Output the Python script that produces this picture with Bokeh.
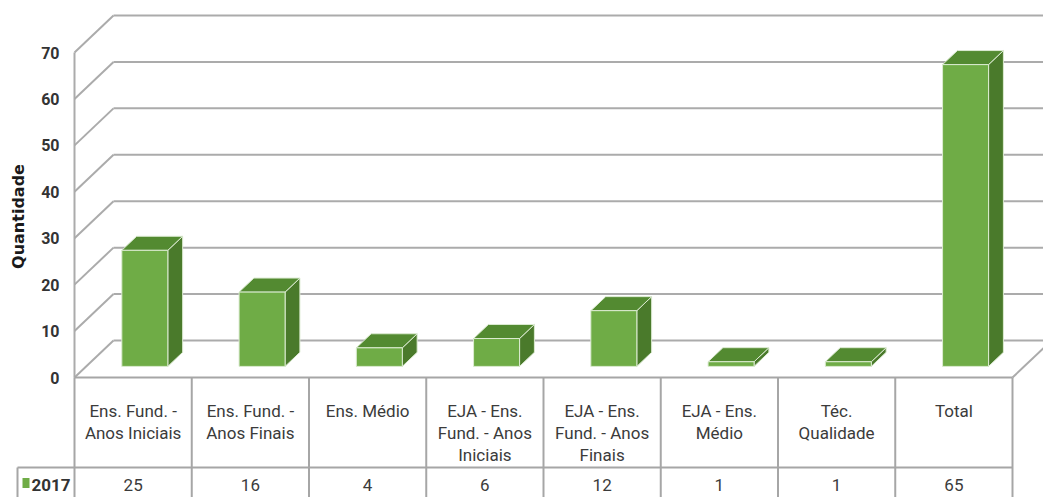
from bokeh.plotting import figure
from bokeh.models import Range1d
from bokeh.core.properties import value
from bokeh.embed import file_html
from bokeh.resources import INLINE

# ---- data ----
categories = ["Ens. Fund. -\nAnos Iniciais", "Ens. Fund. -\nAnos Finais", "Ens. Médio",
              "EJA - Ens.\nFund. - Anos\nIniciais", "EJA - Ens.\nFund. - Anos\nFinais",
              "EJA - Ens.\nMédio", "Téc.\nQualidade", "Total"]
values = [25, 16, 4, 6, 12, 1, 1, 65]
series_name = "2017"
y_ticks = [0, 10, 20, 30, 40, 50, 60, 70]
y_title = "Quantidade"

# ---- layout (pixel geometry) ----
W, H = 1043, 497
PX_X = 117.25            # pixels per category
X0 = 74                  # pixel of front-left corner
PX_Y = 325 / 70          # pixels per unit
Y0 = 377                 # pixel of front zero
DX = 39 / PX_X           # wall depth
DY = 37 / PX_Y
FONT = "Roboto"
TXT = "#3b3b3b"
GRID = "#ababab"
TBL = "#a6a6a6"

n = len(values)
xmin, xmax = -X0 / PX_X, (W - X0) / PX_X
ymin, ymax = -(H - Y0) / PX_Y, Y0 / PX_Y

def xp(px):
    return (px - X0) / PX_X

def yp(py):
    return (Y0 - py) / PX_Y

p = figure(width=W, height=H, x_range=Range1d(xmin, xmax), y_range=Range1d(ymin, ymax),
           output_backend="svg", toolbar_location=None, min_border=0)
p.axis.visible = False
p.grid.visible = False
p.outline_line_color = None
p.background_fill_color = "white"
p.border_fill_color = "white"

ymaxtick = max(y_ticks)
# back wall gridlines
p.segment(x0=[DX] * len(y_ticks), y0=[t + DY for t in y_ticks],
          x1=[xmax] * len(y_ticks), y1=[t + DY for t in y_ticks],
          line_color=GRID, line_width=2)
# side wall diagonals
p.segment(x0=[0] * len(y_ticks), y0=y_ticks, x1=[DX] * len(y_ticks),
          y1=[t + DY for t in y_ticks], line_color=GRID, line_width=2)
# front vertical axis line
p.segment(x0=[0], y0=[0], x1=[0], y1=[ymaxtick], line_color=GRID, line_width=2)
# floor right diagonal
p.segment(x0=[n], y0=[0], x1=[n + DX], y1=[DY], line_color=GRID, line_width=2)

# ---- 3D bars ----
f_front = 0.3
f_depth = 0.38
bw = 46 / PX_X
base = f_front * DY
sx = f_front * DX
bdx, bdy = f_depth * DX, f_depth * DY
centers = [i + 0.5 + sx for i in range(n)]
lefts = [c - bw / 2 for c in centers]
rights = [c + bw / 2 for c in centers]
tops = [base + v for v in values]

side_xs = [[r, r + bdx, r + bdx, r] for r in rights]
side_ys = [[base, base + bdy, t + bdy, t] for t in tops]
top_xs = [[l, r, r + bdx, l + bdx] for l, r in zip(lefts, rights)]
top_ys = [[t, t, t + bdy, t + bdy] for t in tops]

p.patches(xs=side_xs, ys=side_ys, fill_color="#4a7a2b", line_color="#dcebd2", line_width=1)
p.patches(xs=top_xs, ys=top_ys, fill_color="#538a31", line_color="#dcebd2", line_width=1)
p.vbar(x=centers, width=bw, bottom=base, top=tops, fill_color="#6fac46",
       line_color="#dcebd2", line_width=1)

# ---- y tick labels & title ----
p.text(x=[xp(59)] * len(y_ticks), y=y_ticks, text=[str(t) for t in y_ticks],
       text_align="right", text_baseline="middle", text_font=value(FONT),
       text_font_size="16px", text_color="#333333", text_font_style="bold")
p.text(x=[xp(18)], y=[yp(216)], text=[y_title], angle=1.5708,
       text_align="center", text_baseline="middle", text_font=value("DejaVu Sans"),
       text_font_size="16px", text_font_style="bold", text_color="#1a1a1a")

# ---- data table ----
row_y = yp(467)
legend_x = xp(17)
p.segment(x0=list(range(n + 1)), y0=[0] * (n + 1), x1=list(range(n + 1)),
          y1=[ymin] * (n + 1), line_color=TBL, line_width=2)
p.segment(x0=[0, legend_x], y0=[0, row_y], x1=[n, n], y1=[0, row_y],
          line_color=TBL, line_width=2)
p.segment(x0=[legend_x], y0=[row_y], x1=[legend_x], y1=[ymin], line_color=TBL, line_width=2)

p.text(x=[i + 0.5 for i in range(n)], y=[yp(400)] * n, text=categories,
       text_align="center", text_baseline="top", text_font=value(FONT),
       text_font_size="17px", text_color=TXT, text_line_height=1.12)
p.text(x=[i + 0.5 for i in range(n)], y=[yp(484)] * n, text=[str(v) for v in values],
       text_align="center", text_baseline="middle", text_font=value(FONT),
       text_font_size="17px", text_color=TXT)
p.rect(x=[xp(25.5)], y=[yp(482.5)], width=7, height=10, width_units="screen",
       height_units="screen", fill_color="#6fac46", line_color=None)
p.text(x=[xp(31)], y=[yp(484)], text=[series_name], text_align="left",
       text_baseline="middle", text_font=value(FONT), text_font_size="17px",
       text_color="#333333", text_font_style="bold")

open("out.html", "w").write(file_html(p, INLINE))
